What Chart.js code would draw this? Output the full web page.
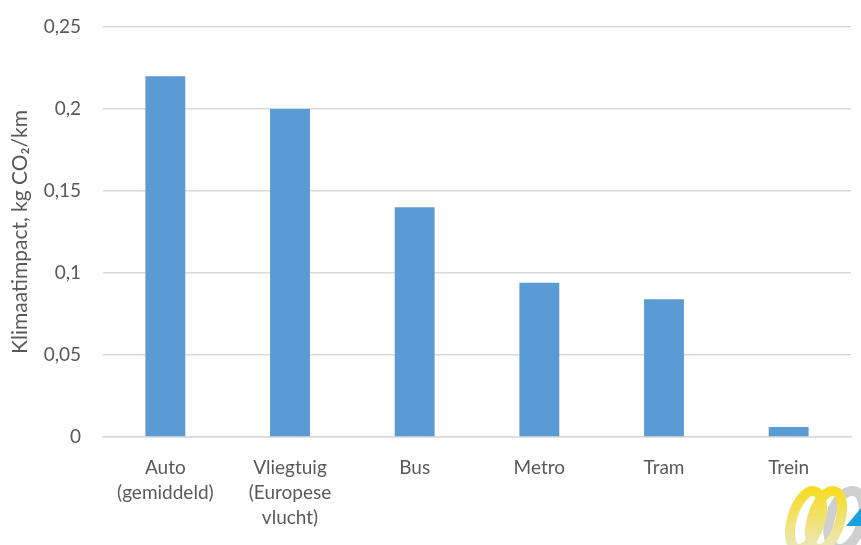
<!DOCTYPE html>
<html>
<head>
<meta charset="utf-8">
<script src="https://cdn.jsdelivr.net/npm/chart.js@4.4.0/dist/chart.umd.min.js"></script>
<style>
  html, body { margin: 0; padding: 0; background: #fff; }
  #wrap { width: 861px; height: 545px; position: relative; }
</style>
</head>
<body>
<div id="wrap"><canvas id="co2Chart" width="861" height="545"></canvas></div>
<script>
// categories and values (kg CO2 per km)
const categories = [
  ["Auto", "(gemiddeld)"],
  ["Vliegtuig", "(Europese", "vlucht)"],
  "Bus",
  "Metro",
  "Tram",
  "Trein",
];
const impactValues = [0.22, 0.2, 0.14, 0.094, 0.084, 0.006];
const yTicks = [0, 0.05, 0.1, 0.15, 0.2, 0.25];

const textColor = "#595959";
const gridColor = "#d9d9d9";
const fontFamily = "Lato, 'Open Sans', sans-serif";

// small decorative logo in the bottom right corner
const logoPlugin = {
  id: "logo",
  afterDraw(chart) {
    const c = chart.ctx;
    c.save();
    // grey ring
    c.lineWidth = 10;
    c.strokeStyle = "#cfcfcf";
    c.beginPath();
    c.ellipse(846, 520, 16, 30, 0.3, 0, Math.PI * 2);
    c.stroke();
    // yellow rings
    const g = c.createLinearGradient(0, 487, 0, 545);
    g.addColorStop(0, "#f8dc1e");
    g.addColorStop(1, "#ece6b4");
    c.strokeStyle = g;
    c.beginPath();
    c.ellipse(806, 520, 14, 30, 0.3, 0, Math.PI * 2);
    c.stroke();
    c.beginPath();
    c.ellipse(826, 520, 14, 30, 0.3, 0, Math.PI * 2);
    c.stroke();
    // blue triangle
    c.fillStyle = "#1aa0dc";
    c.beginPath();
    c.moveTo(861, 508);
    c.lineTo(861, 526);
    c.lineTo(846, 526);
    c.closePath();
    c.fill();
    c.restore();
  },
};

const ctx = document.getElementById("co2Chart").getContext("2d");
const co2chart = new Chart(ctx, {
  type: "bar",
  data: {
    labels: categories,
    datasets: [
      {
        label: "Klimaatimpact",
        data: impactValues,
        backgroundColor: "#5b9bd5",
        borderWidth: 0,
        barPercentage: 1,
        categoryPercentage: 0.32,
      },
    ],
  },
  options: {
    responsive: false,
    animation: false,
    layout: { padding: { top: 27, right: 10, left: 8, bottom: 4 } },
    plugins: {
      legend: { display: false },
      tooltip: { enabled: false },
    },
    scales: {
      x: {
        grid: { display: false },
        border: { display: true, color: gridColor, width: 1.5 },
        ticks: {
          color: textColor,
          font: { family: fontFamily, size: 19, lineHeight: 1.3 },
          padding: 11,
          maxRotation: 0,
          autoSkip: false,
        },
      },
      y: {
        min: 0,
        max: 0.25,
        afterBuildTicks(axis) {
          axis.ticks = yTicks.map((v) => ({ value: v }));
        },
        afterFit(axis) {
          axis.width = 95;
          axis.paddingTop = 0;
        },
        grid: { color: gridColor, lineWidth: 1.5, drawTicks: false },
        border: { display: false },
        ticks: {
          color: textColor,
          font: { family: fontFamily, size: 19 },
          padding: 22,
          callback: (v) => String(v).replace(".", ","),
        },
        title: {
          display: true,
          text: "Klimaatimpact, kg CO₂/km",
          color: textColor,
          font: { family: fontFamily, size: 21 },
          padding: { top: 0, bottom: 4 },
        },
      },
    },
  },
  plugins: [logoPlugin],
});
</script>
</body>
</html>
